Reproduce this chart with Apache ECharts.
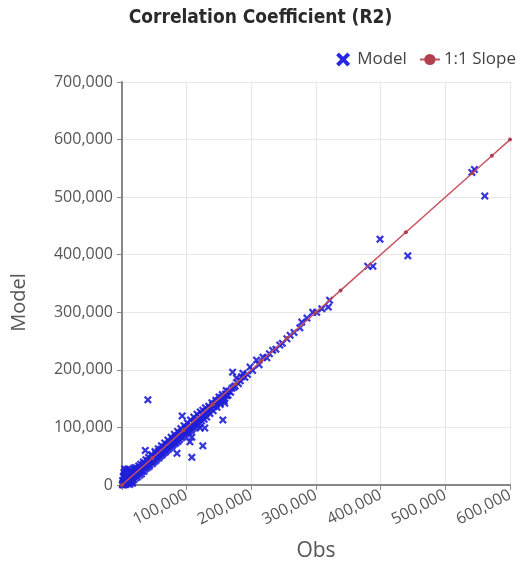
<!DOCTYPE html>
<html>
<head>
<meta charset="utf-8">
<script src="https://cdn.jsdelivr.net/npm/echarts@6/dist/echarts.min.js"></script>
<style>
  html, body { margin: 0; padding: 0; background: #fff; }
  #chart { width: 521px; height: 567px; }
</style>
</head>
<body>
<div id="chart"></div>
<script>
// Obs vs Model points
var modelPoints = [
  [1000, 1000], [2000, 3000], [3000, 8000], [5000, 2000], [6000, 12000], [8000, 5000],
  [4000, 18000], [10000, 14000], [12000, 9000], [7000, 22000], [15000, 13000], [14000, 20000],
  [18000, 16000], [20000, 24000], [22000, 18000], [25000, 27000], [9000, 28000], [3000, 14000],
  [16000, 6000], [11000, 4000], [13000, 26000], [17000, 10000], [19000, 30000], [23000, 21000],
  [26000, 22000], [28000, 31000], [30000, 26000], [32000, 35000], [34000, 30000], [36000, 60000],
  [35000, 38000], [38000, 33000], [40000, 42000], [40000, 148000], [42000, 37000], [44000, 46000],
  [45000, 40000], [47000, 50000], [48000, 43000], [50000, 47000], [52000, 55000], [53000, 49000],
  [55000, 51000], [56000, 58000], [58000, 54000], [60000, 62000], [61000, 56000], [63000, 59000],
  [64000, 66000], [66000, 61000], [67000, 64000], [69000, 70000], [70000, 65000], [72000, 68000],
  [73000, 74000], [75000, 70000], [76000, 72000], [78000, 79000], [79000, 74000], [80000, 76000],
  [82000, 83000], [83000, 78000], [85000, 55000], [85000, 81000], [86000, 86000], [88000, 83000],
  [89000, 90000], [90000, 85000], [92000, 88000], [93000, 120000], [93000, 94000], [95000, 90000],
  [96000, 92000], [98000, 98000], [99000, 94000], [100000, 96000], [102000, 101000], [103000, 97000],
  [105000, 75000], [105000, 100000], [106000, 104000], [108000, 83000], [108000, 48000], [108000, 102000],
  [110000, 108000], [112000, 106000], [113000, 110000], [115000, 109000], [117000, 114000], [118000, 112000],
  [120000, 118000], [121000, 99000], [122000, 116000], [124000, 122000], [125000, 68000], [126000, 120000],
  [128000, 99000], [128000, 126000], [130000, 124000], [132000, 130000], [134000, 128000], [136000, 134000],
  [138000, 132000], [140000, 139000], [142000, 136000], [144000, 142000], [146000, 140000], [148000, 146000],
  [150000, 148000], [152000, 145000], [154000, 152000], [156000, 113000], [157000, 150000], [159000, 142000],
  [160000, 158000], [162000, 155000], [164000, 156000], [165000, 163000], [168000, 161000], [170000, 168000],
  [171000, 196000], [173000, 170000], [175000, 172000], [177000, 186000], [180000, 176000], [183000, 181000],
  [185000, 188000], [187000, 194000], [190000, 187000], [194000, 192000], [198000, 205000], [202000, 199000],
  [208000, 217000], [212000, 209000], [218000, 222000], [224000, 221000], [228000, 228000], [233000, 234000],
  [238000, 236000], [244000, 243000], [248000, 246000], [255000, 254000], [260000, 260000], [266000, 265000],
  [275000, 273000], [278000, 283000], [286000, 290000], [295000, 300000], [301000, 300000], [309000, 306000],
  [319000, 309000], [321000, 321000], [380000, 380000], [388000, 380000], [399000, 427000], [442000, 398000],
  [541000, 543000], [545000, 548000], [561000, 502000]
];
// the thick band of points along the diagonal below 160,000
var bandPoints = [
  [1000, 8000], [2000, 15000], [3000, 22000], [4000, 28000], [1500, 4000], [6000, 6000],
  [7000, 10000], [9000, 12000], [2500, 0], [500, 500], [10000, 22000], [13000, 17000], [6000, 25000],
  [5000, 15000], [6000, 1000], [8000, 18000], [9000, 2000], [11000, 20000], [12000, 1000],
  [13000, 6000], [15000, 24000], [16000, 3000], [18000, 9000], [19000, 27000], [21000, 12000],
  [22000, 30000], [24000, 14000], [26000, 33000], [27000, 17000], [29000, 36000], [30000, 19000],
  [31000, 23000], [33000, 40000], [34000, 24000], [36000, 28000], [37000, 44000], [39000, 30000],
  [41000, 48000], [42000, 32000], [43000, 35000], [46000, 53000], [47000, 37000], [49000, 40000],
  [51000, 58000], [52000, 42000], [54000, 45000], [56000, 63000], [57000, 47000], [59000, 50000],
  [61000, 68000], [62000, 52000], [64000, 55000], [66000, 73000], [67000, 57000], [69000, 60000],
  [71000, 78000], [72000, 62000], [74000, 65000], [76000, 83000], [77000, 67000], [79000, 70000],
  [81000, 88000], [82000, 72000], [84000, 74000], [86000, 93000], [87000, 76000], [89000, 79000],
  [91000, 98000], [92000, 82000], [94000, 84000], [96000, 103000], [97000, 86000], [99000, 89000],
  [101000, 108000], [102000, 91000], [104000, 93000], [106000, 113000], [107000, 95000], [109000, 98000],
  [111000, 118000], [112000, 100000], [114000, 103000], [116000, 123000], [117000, 105000], [119000, 108000],
  [121000, 127000], [123000, 111000], [125000, 130000], [127000, 114000], [129000, 134000], [131000, 118000],
  [134000, 137000], [136000, 124000], [139000, 143000], [141000, 129000], [145000, 147000], [147000, 135000],
  [150000, 153000], [152000, 140000], [155000, 157000], [158000, 146000], [161000, 164000]
];
var slopePoints = [
  [0, 0], [47000, 47000], [95000, 95000], [140000, 140000], [175000, 175000], [215000, 215000],
  [255000, 255000], [300000, 300000], [338000, 338000], [439000, 439000], [542000, 542000],
  [572000, 572000], [600000, 600000]
];
var xTicks = [0, 100000, 200000, 300000, 400000, 500000, 600000];
var yTicks = [0, 100000, 200000, 300000, 400000, 500000, 600000, 700000];

var xSymbol = 'path://M2,0 L5,3 L8,0 L10,2 L7,5 L10,8 L8,10 L5,7 L2,10 L0,8 L3,5 L0,2 Z';
var fmt = function (v) { return v.toLocaleString('en-US'); };

var chart = echarts.init(document.getElementById('chart'));
chart.setOption({
  animation: false,
  textStyle: { fontFamily: 'Open Sans' },
  title: {
    text: 'Correlation Coefficient (R2)',
    left: 'center',
    top: 4,
    textStyle: {
      fontFamily: "'Liberation Sans Narrow', 'DejaVu Sans Condensed'",
      fontWeight: 'bold',
      fontSize: 19,
      color: '#2a2a2a'
    }
  },
  legend: {
    right: 0,
    top: 46,
    itemGap: 12,
    itemWidth: 20,
    itemHeight: 14,
    textStyle: { fontSize: 17, color: '#444', padding: [0, 0, 0, -1] },
    data: [
      { name: 'Model', icon: xSymbol, itemStyle: { color: '#1010e0' } },
      { name: '1:1 Slope' }
    ]
  },
  grid: { left: 122, top: 82, right: 11, bottom: 82, containLabel: false },
  xAxis: {
    type: 'value',
    min: xTicks[0],
    max: xTicks[xTicks.length - 1],
    interval: 100000,
    name: 'Obs',
    nameLocation: 'middle',
    nameGap: 56,
    nameTextStyle: { fontSize: 21, color: '#555' },
    axisLine: { show: true, lineStyle: { color: '#888', width: 2 } },
    axisTick: { show: true, length: 5, lineStyle: { color: '#888' } },
    axisLabel: {
      rotate: 27,
      fontSize: 16,
      color: '#555',
      margin: 9,
      formatter: function (v) { return v === 0 ? '' : fmt(v); }
    },
    splitLine: { show: true, lineStyle: { color: '#e8e8e8' } }
  },
  yAxis: {
    type: 'value',
    min: yTicks[0],
    max: yTicks[yTicks.length - 1],
    interval: 100000,
    name: 'Model',
    nameLocation: 'middle',
    nameGap: 93,
    nameTextStyle: { fontSize: 20, color: '#555', padding: [0, 38, 0, 0] },
    axisLine: { show: true, lineStyle: { color: '#888', width: 2 } },
    axisTick: { show: true, length: 5, lineStyle: { color: '#888' } },
    axisLabel: { fontSize: 16, color: '#555', margin: 9, formatter: fmt },
    splitLine: { show: true, lineStyle: { color: '#e8e8e8' } }
  },
  series: [
    {
      name: 'Model',
      type: 'scatter',
      symbol: xSymbol,
      symbolSize: 8,
      itemStyle: { color: '#2020d8', opacity: 0.9 },
      data: modelPoints.concat(bandPoints),
      z: 3
    },
    {
      name: '1:1 Slope',
      type: 'line',
      symbol: 'circle',
      symbolSize: 4,
      showSymbol: true,
      lineStyle: { color: '#c9505e', width: 1.5 },
      itemStyle: { color: '#b04050' },
      data: slopePoints,
      z: 4
    }
  ]
});
</script>
</body>
</html>
